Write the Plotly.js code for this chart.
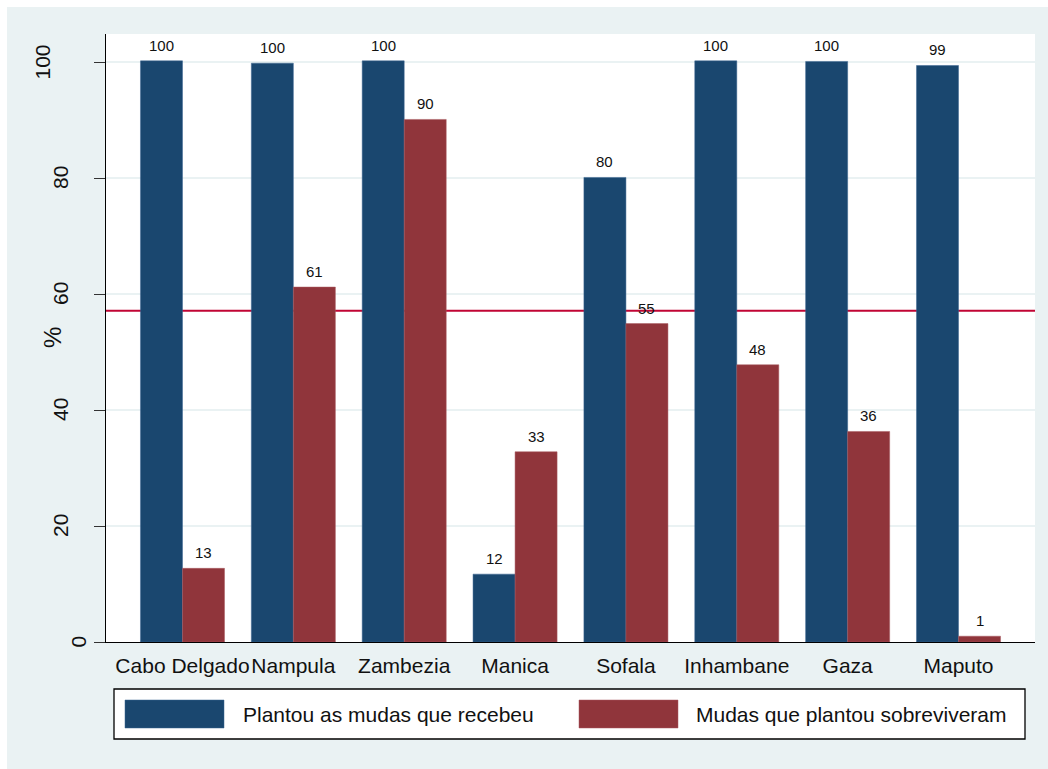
<!DOCTYPE html>
<html>
<head>
<meta charset="utf-8">
<script src="https://cdn.plot.ly/plotly-3.0.1.min.js"></script>
<style>
  html, body { margin: 0; padding: 0; background: #ffffff; }
  #chart { position: absolute; left: 7px; top: 7px; width: 1041px; height: 762px; }
</style>
</head>
<body>
<div id="chart"></div>
<script>
const categories = ["Cabo Delgado", "Nampula", "Zambezia", "Manica", "Sofala", "Inhambane", "Gaza", "Maputo"];
const plantou = [100.2, 99.8, 100.2, 11.7, 80.1, 100.2, 100.1, 99.4];
const sobreviveram = [12.7, 61.2, 90.1, 32.8, 54.9, 47.8, 36.3, 1.0];
const plantouLabels = ["100", "100", "100", "12", "80", "100", "100", "99"];
const sobreviveramLabels = ["13", "61", "90", "33", "55", "48", "36", "1"];
const seriesNames = ["Plantou as mudas que recebeu", "Mudas que plantou sobreviveram"];
const referenceLine = 57.1;
const yTicks = [0, 20, 40, 60, 80, 100];
const yTitle = "%";

const BLUE = "#1a476f", RED = "#90353b", BG = "#eaf2f3";
const FONT = "Liberation Sans, Arial, sans-serif";

// plot geometry (page px) for placing the custom legend
const plotL = 106, plotR = 1035, plotT = 34, plotB = 642;
const px = x => (x - plotL) / (plotR - plotL);
const py = y => (plotB - y) / (plotB - plotT);

const traces = [
  { type: "bar", x: categories, y: plantou, name: seriesNames[0],
    marker: { color: BLUE, line: { color: "#3a6590", width: 0.5 } }, showlegend: false, hoverinfo: "x+y" },
  { type: "bar", x: categories, y: sobreviveram, name: seriesNames[1],
    marker: { color: RED, line: { color: "#a85a60", width: 0.5 } }, showlegend: false, hoverinfo: "x+y" }
];

const annotations = [];
categories.forEach((c, i) => {
  annotations.push({ x: c, y: plantou[i], text: plantouLabels[i], xref: "x", yref: "y",
    showarrow: false, yanchor: "bottom", xshift: -21, yshift: 5,
    font: { family: FONT, size: 15, color: "#111" } });
  annotations.push({ x: c, y: sobreviveram[i], text: sobreviveramLabels[i], xref: "x", yref: "y",
    showarrow: false, yanchor: "bottom", xshift: 21, yshift: 5,
    font: { family: FONT, size: 15, color: "#111" } });
});
// y tick labels (rotated, Stata-style offset by label length)
yTicks.forEach(v => {
  const s = String(v);
  annotations.push({ xref: "paper", yref: "y", x: 0, y: v, text: s, textangle: -90,
    showarrow: false, xanchor: "center", yanchor: "middle", xshift: -(11 + 17.5 * s.length),
    font: { family: FONT, size: 21, color: "#111" } });
});
// y axis title
annotations.push({ xref: "paper", yref: "paper", x: 0, y: 0.5, text: yTitle, textangle: -90,
  showarrow: false, xanchor: "center", yanchor: "middle", xshift: -54,
  font: { family: FONT, size: 24, color: "#111" } });
// legend labels
annotations.push({ xref: "paper", yref: "paper", x: px(241), y: py(714), xanchor: "left", yanchor: "middle",
  text: seriesNames[0], showarrow: false, font: { family: FONT, size: 21, color: "#111" } });
annotations.push({ xref: "paper", yref: "paper", x: px(694), y: py(714), xanchor: "left", yanchor: "middle",
  text: seriesNames[1], showarrow: false, font: { family: FONT, size: 21, color: "#111" } });

const shapes = [
  { type: "line", xref: "paper", yref: "y", x0: 0, x1: 1, y0: referenceLine, y1: referenceLine,
    line: { color: "#c10534", width: 2 }, layer: "between" },
  // legend frame and swatches
  { type: "rect", xref: "paper", yref: "paper", x0: px(114), x1: px(1025), y0: py(739), y1: py(689),
    line: { color: "#000", width: 1.3 }, fillcolor: "#ffffff" },
  { type: "rect", xref: "paper", yref: "paper", x0: px(125), x1: px(224), y0: py(728), y1: py(700),
    line: { color: "#3a6590", width: 0.5 }, fillcolor: BLUE },
  { type: "rect", xref: "paper", yref: "paper", x0: px(579), x1: px(678), y0: py(728), y1: py(700),
    line: { color: "#a85a60", width: 0.5 }, fillcolor: RED }
];

const layout = {
  width: 1041, height: 762,
  margin: { l: 99, r: 13, t: 27, b: 127 },
  paper_bgcolor: BG, plot_bgcolor: "#ffffff",
  font: { family: FONT, color: "#111" },
  barmode: "group", bargap: 0.242, bargroupgap: 0,
  showlegend: false,
  xaxis: {
    type: "category", range: [-0.69, 7.69],
    showline: true, linecolor: "#000", linewidth: 1,
    ticks: "", showgrid: false, zeroline: false,
    tickangle: 0,
    tickfont: { family: FONT, size: 21, color: "#111" },
    ticklabelstandoff: 5
  },
  yaxis: {
    range: [0, 104.83], tickvals: yTicks, showticklabels: false,
    showline: true, linecolor: "#000", linewidth: 1,
    ticks: "outside", ticklen: 11, tickcolor: "#333", tickwidth: 1,
    showgrid: true, gridcolor: BG, gridwidth: 1.5, zeroline: false
  },
  shapes: shapes,
  annotations: annotations
};

Plotly.newPlot("chart", traces, layout, { displayModeBar: false, staticPlot: true });
</script>
</body>
</html>
